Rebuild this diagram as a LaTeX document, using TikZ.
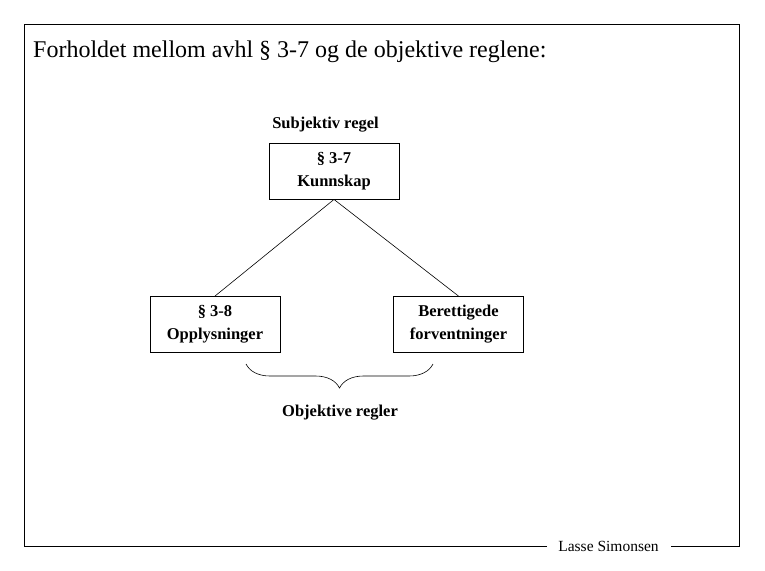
\documentclass[tikz,border=0pt]{standalone}
\usepackage{fontspec}
\setmainfont{Liberation Serif}
\usetikzlibrary{decorations.pathreplacing}
\begin{document}
\begin{tikzpicture}[x=1pt,y=-1pt,
  box/.style={draw,line width=0.9pt,minimum width=130pt,minimum height=56pt,align=center,inner sep=0pt,font=\fontsize{16.5}{23}\selectfont\bfseries},
  lbl/.style={inner sep=0pt,font=\fontsize{16.5}{20}\selectfont\bfseries},
  conn/.style={line width=0.6pt}]
\useasboundingbox (0,0) rectangle (765,570);
% frame
\coordinate (tl) at (24.5,24.5);
\coordinate (tr) at (739.5,24.5);
\coordinate (br) at (739.5,546);
\coordinate (bl) at (24.5,546);
\coordinate (gapL) at (547,546);
\coordinate (gapR) at (671,546);
\draw[line width=1pt] (gapL) -- (bl) -- (tl) -- (tr) -- (br) -- (gapR);
\node[inner sep=0pt,font=\fontsize{15.5}{18}\selectfont] (auth) at (608.5,546) {Lasse Simonsen};
\node[anchor=base west,inner sep=0pt,font=\fontsize{24}{28}\selectfont] (title) at (33,57) {Forholdet mellom avhl § 3-7 og de objektive reglene:};
\node[lbl] (subj) at (325.5,125) {Subjektiv regel};
\node[box] (top) at (334,171) {§ 3-7\\Kunnskap};
\node[box] (left) at (215,324.5) {§ 3-8\\Opplysninger};
\node[box] (right) at (458.5,324.5) {Berettigede\\forventninger};
\draw[conn] (top.south) -- (left.north);
\draw[conn] (top.south) -- (right.north);
\coordinate (bA) at (246,364);
\coordinate (bB) at (433,364);
\draw[conn,decorate,decoration={brace,mirror,amplitude=24pt,aspect=0.5}] (bA) -- (bB);
\node[lbl] (obj) at (340,413) {Objektive regler};
\end{tikzpicture}
\end{document}
